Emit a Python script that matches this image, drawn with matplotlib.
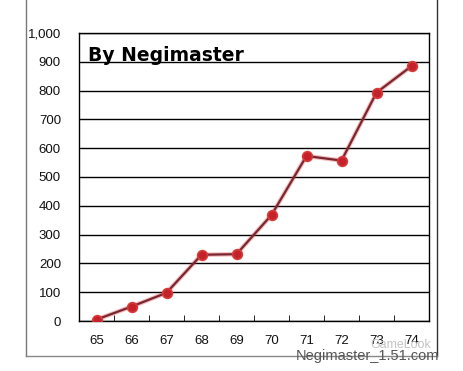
import numpy as np
import matplotlib.pyplot as plt
from matplotlib.lines import Line2D

plt.rcParams['font.family'] = ['Liberation Sans', 'DejaVu Sans']

levels = ['65', '66', '67', '68', '69', '70', '71', '72', '73', '74']
values = [5, 50, 98, 230, 232, 368, 573, 557, 793, 885]
yticks = [0, 100, 200, 300, 400, 500, 600, 700, 800, 900, 1000]

W, H = 463, 371
fig = plt.figure(figsize=(W / 100, H / 100), dpi=100)
ax = fig.add_axes([79 / W, 1 - 321 / H, 350 / W, 288 / H])

xs = np.arange(len(levels))
ax.plot(xs, values, color='#e04040', lw=3.2, alpha=0.35, zorder=2)
ax.plot(xs, values, color='#7a2630', lw=1.6, zorder=3)
ax.plot(xs, values, 'o', color='#c4222a', ms=7, mec='#d83a3a', mew=1.2, zorder=4)

ax.set_xlim(-0.5, len(levels) - 0.5)
ax.set_ylim(0, 1000)
ax.set_yticks(yticks)
ax.set_yticklabels([f'{v:,}' for v in yticks])
ax.set_xticks(xs)
ax.set_xticklabels(levels)
ax.set_xticks(np.arange(-0.5, len(levels)), minor=True)
ax.tick_params(axis='x', which='major', length=0, pad=10, labelsize=9.5, colors='#111111')
ax.tick_params(axis='x', which='minor', length=4, direction='in', color='black')
ax.tick_params(axis='y', length=0, pad=13, labelsize=9.5, colors='#111111')
ax.grid(axis='y', color='black', lw=1)
ax.set_axisbelow(True)
for s in ax.spines.values():
    s.set_color('black')
    s.set_linewidth(1)

ax.text(0.025, 0.955, 'By Negimaster', transform=ax.transAxes, fontsize=13.5,
        fontweight='heavy', family=['DejaVu Sans'], va='top', ha='left')

# outer frame
fx = lambda p: p / W
fy = lambda p: 1 - p / H
fig.add_artist(Line2D([fx(26), fx(26)], [fy(356), 1.01], color='#777777', lw=1))
fig.add_artist(Line2D([fx(437), fx(437)], [fy(356), 1.01], color='#333333', lw=1))
fig.add_artist(Line2D([fx(26), fx(437)], [fy(356), fy(356)], color='#888888', lw=1))

fig.text(fx(431), fy(345), 'GameLook', ha='right', va='center', fontsize=9, color='#c4c4c4')
fig.text(fx(439), fy(356), 'Negimaster_1.51.com', ha='right', va='center',
         fontsize=10.5, color='#555555')

fig.savefig('out.png', dpi=100, facecolor='white')
